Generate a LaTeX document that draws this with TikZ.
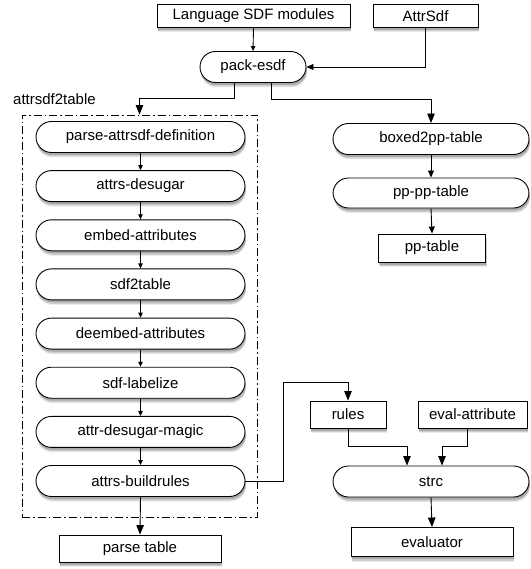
\documentclass[tikz,border=0pt]{standalone}
\usepackage{fontspec}
\setmainfont{Liberation Sans}
\usetikzlibrary{arrows.meta,shadows}
\begin{document}
\begin{tikzpicture}[x=1pt,y=-1pt,
  softshadow/.style={
    general shadow={shadow xshift=1pt, shadow yshift=-5pt, shadow scale=1.0, opacity=0.08, fill=black},
    general shadow={shadow xshift=1pt, shadow yshift=-4pt, opacity=0.12, fill=black},
    general shadow={shadow xshift=0.8pt, shadow yshift=-2.5pt, opacity=0.18, fill=black}},
  base/.style={draw, line width=0.9pt, fill=white, inner sep=0pt,
    font=\fontsize{15}{18}\selectfont, softshadow},
  boxnode/.style={base, rectangle},
  pill/.style={base, rectangle, rounded corners=15.5pt, minimum height=31pt},
  chainpill/.style={pill, minimum width=209pt},
  conn/.style={line width=0.9pt},
  small/.style={conn, -{Triangle[length=5pt,width=4.5pt]}},
  mid/.style={conn, -{Triangle[length=7pt,width=6pt]}},
  big/.style={conn, -{Triangle[length=9.5pt,width=7.5pt]}},
  framebox/.style={draw, line width=0.9pt, dash pattern=on 8pt off 3pt on 1.5pt off 3pt}
]
\useasboundingbox (0,0) rectangle (530,569);

% top
\node[boxnode, minimum width=193pt, minimum height=23pt] (lang) at (253.5,16) {Language SDF modules};
\node[boxnode, minimum width=105pt, minimum height=23pt] (attr) at (425.5,16) {AttrSdf};
\node[pill, minimum width=106pt] (pack) at (253,67) {pack-esdf};

% frame
\node[framebox, minimum width=235pt, minimum height=402pt] (frame) at (139.5,316) {};
\node[anchor=west, inner sep=0pt, font=\fontsize{15}{18}\selectfont] (flabel) at (13,99) {attrsdf2table};

% chain
\node[chainpill] (c1) at (140.5,137) {parse-attrsdf-definition};
\node[chainpill] (c2) at (140.5,186.1) {attrs-desugar};
\node[chainpill] (c3) at (140.5,235.3) {embed-attributes};
\node[chainpill] (c4) at (140.5,284.4) {sdf2table};
\node[chainpill] (c5) at (140.5,333.6) {deembed-attributes};
\node[chainpill] (c6) at (140.5,382.7) {sdf-labelize};
\node[chainpill] (c7) at (140.5,431.9) {attr-desugar-magic};
\node[chainpill] (c8) at (140.5,481) {attrs-buildrules};
\node[boxnode, minimum width=162pt, minimum height=27pt] (ptable) at (140,548.5) {parse table};

% right column
\node[pill, minimum width=196pt] (boxed) at (431,139) {boxed2pp-table};
\node[pill, minimum width=196pt, minimum height=30pt] (pppp) at (431,193) {pp-pp-table};
\node[boxnode, minimum width=107pt, minimum height=28pt] (pptable) at (432,248) {pp-table};

\node[boxnode, minimum width=76pt, minimum height=27pt] (rules) at (348,414.5) {rules};
\node[boxnode, minimum width=109pt, minimum height=27pt] (evalattr) at (472.5,414.5) {eval-attribute};
\node[pill, minimum width=196pt] (strc) at (431,481.5) {strc};
\node[boxnode, minimum width=162pt, minimum height=29pt] (evaluator) at (432,542) {evaluator};

% helper coordinates
\coordinate (j1) at (234,0);
\coordinate (j2) at (271,0);
\coordinate (j3) at (283,382);
\coordinate (j4) at (407,446);
\coordinate (j5) at (442,446);
\coordinate (j6) at (467,0);

% connectors
\draw[small] (lang.south) -- (pack.north);
\draw[mid] (attr.south) |- (pack.east);
\draw[big] (pack.south -| j1) -- ++(0,16) -| (frame.north);
\draw[big] (pack.south -| j2) -- ++(0,16.5) -| (boxed.north);

\draw[small] (c1.south) -- (c2.north);
\draw[small] (c2.south) -- (c3.north);
\draw[small] (c3.south) -- (c4.north);
\draw[small] (c4.south) -- (c5.north);
\draw[small] (c5.south) -- (c6.north);
\draw[small] (c6.south) -- (c7.north);
\draw[small] (c7.south) -- (c8.north);
\draw[big] (c8.south) -- (ptable.north);

\draw[mid] (boxed.south) -- (pppp.north);
\draw[mid] (pppp.south) -- (pptable.north);

\draw[big] (c8.east) -| (j3) -| (rules.north);
\draw[big] (rules.south) |- (j4) -- (j4 |- strc.north);
\draw[big] (evalattr.south -| j6) |- (j5) -- (j5 |- strc.north);
\draw[big] (strc.south) -- (evaluator.north);
\end{tikzpicture}
\end{document}
